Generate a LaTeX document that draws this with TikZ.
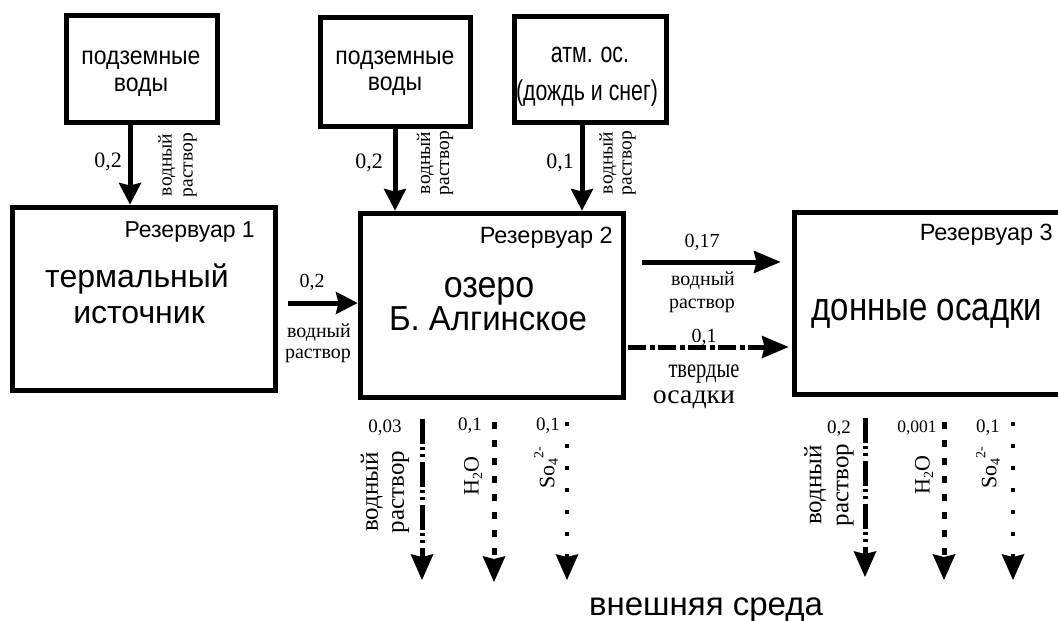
\documentclass[tikz,border=0pt]{standalone}
\usepackage{fontspec}
\setmainfont{Liberation Sans}
\newfontfamily\serf{Liberation Serif}
\usetikzlibrary{arrows.meta}
\newcommand\fsz[1]{\fontsize{#1}{#1}\selectfont}
\begin{document}
\begin{tikzpicture}[x=1pt,y=-1pt,
  box/.style={draw, line width=5pt, inner sep=0pt},
  flow/.style={line width=5pt, -{Stealth[length=22pt,width=23pt,inset=3pt,line width=0pt]}},
  flowlong/.style={line width=5pt, -{Stealth[length=27pt,width=23pt,inset=3pt,line width=0pt]}},
  downtip/.style={-{Stealth[length=26pt,width=23pt,inset=3pt,line width=0pt]}},
  solut/.style={downtip, line width=5pt, dash pattern=on 25pt off 3pt on 3pt off 4pt on 3pt off 5pt},
  water/.style={downtip, line width=5pt, dash pattern=on 7pt off 11pt},
  sulf/.style={downtip, line width=4pt, dash pattern=on 3.5pt off 18.5pt},
  solid/.style={line width=5pt, dash pattern=on 18pt off 3.5pt on 5pt off 3.5pt,
     -{Stealth[length=27pt,width=23pt,inset=3pt,line width=0pt]}},
  txt/.style={inner sep=0pt, anchor=base},
  num/.style={inner sep=0pt, anchor=base, font=\serf\fsz{19}},
  rot/.style={inner sep=0pt, rotate=90, align=center}
]
\useasboundingbox (0,0) rectangle (1058,621);
\clip (0,0) rectangle (1058,621);

% boxes
\node[box, minimum width=151pt, minimum height=107pt] (g1) at (141.5,68.5) {};
\node[box, minimum width=150pt, minimum height=109pt] (g2) at (395,71.5) {};
\node[box, minimum width=152pt, minimum height=106pt] (atm) at (590,69) {};
\node[box, minimum width=263pt, minimum height=183pt] (R1) at (143.5,298.5) {};
\node[box, minimum width=263pt, minimum height=184pt] (R2) at (491.5,305) {};
\node[box, minimum width=276pt, minimum height=182pt] (R3) at (932,303) {};

% box texts
\node[txt, font=\fsz{23}] (g1a) at (141,64) {\scalebox{1}[1.1]{подземные}};
\node[txt, font=\fsz{23}] (g1b) at (141,91) {\scalebox{1}[1.1]{воды}};
\node[txt, font=\fsz{23}] (g2a) at (395,64) {\scalebox{1}[1.1]{подземные}};
\node[txt, font=\fsz{23}] (g2b) at (395,90) {\scalebox{1}[1.1]{воды}};
\node[txt, font=\fsz{26}] (ata) at (590,62) {\scalebox{0.82}[1.1]{атм. ос.}};
\node[txt, font=\fsz{26}] (atb) at (587,100) {\scalebox{0.82}[1.1]{(дождь и снег)}};

\node[txt, anchor=base east, font=\fsz{23}] (r1t) at (255,237) {Резервуар 1};
\node[txt, font=\fsz{32}] (r1a) at (137,287) {термальный};
\node[txt, font=\fsz{32}] (r1b) at (139,323) {источник};

\node[txt, anchor=base east, font=\fsz{23.5}] (r2t) at (613,243) {Резервуар 2};
\node[txt, font=\fsz{34}] (r2a) at (489,297) {\scalebox{1}[1.1]{озеро}};
\node[txt, font=\fsz{33}] (r2b) at (488,330) {\scalebox{1}[1.05]{Б. Алгинское}};

\node[txt, anchor=base east, font=\fsz{23.5}] (r3t) at (1053,240) {Резервуар 3};
\node[txt, font=\fsz{33}] (r3a) at (927,320) {\scalebox{1}[1.2]{донные осадки}};

\node[txt, font=\fsz{33}] (env) at (706,615) {внешняя среда};

% top inflows
\coordinate (t1) at ([xshift=-11.5pt]g1.south);
\draw[flow] (t1) -- (t1 |- R1.north);
\draw[flow] (g2.south) -- (g2.south |- R2.north);
\coordinate (t3) at ([xshift=-8pt]atm.south);
\draw[flow] (t3) -- (t3 |- R2.north);

\node[num, font=\serf\fsz{22}] (n1) at (108,167) {0,2};
\node[rot, font=\serf\fontsize{19.5}{21}\selectfont] (w1) at (177.5,165) {водный\\раствор};
\node[num, font=\serf\fsz{22}] (n2) at (369,168) {0,2};
\node[rot, font=\serf\fontsize{19.5}{19}\selectfont] (w2) at (435,163) {водный\\раствор};
\node[num, font=\serf\fsz{22}] (n3) at (560,168) {0,1};
\node[rot, font=\serf\fontsize{19.5}{19}\selectfont] (w3) at (617.5,163) {водный\\раствор};

% horizontal flows
\coordinate (h1) at (288,303);
\draw[flow] (h1) -- (h1 -| R2.west);
\node[num, font=\serf\fsz{20}] (n4) at (312,287) {0,2};
\node[num, font=\serf\fsz{20}] (w4a) at (319,337) {водный};
\node[num, font=\serf\fsz{20}] (w4b) at (318,358) {раствор};

\coordinate (h2) at (642,262);
\draw[flowlong, shorten >=11pt] (h2) -- (h2 -| R3.west);
\node[num, font=\serf\fsz{20}] (n5) at (702,247) {0,17};
\node[num, font=\serf\fsz{20}] (w5a) at (703,285) {водный};
\node[num, font=\serf\fsz{20}] (w5b) at (702,308) {раствор};

\coordinate (h3) at (628,347);
\draw[solid, shorten >=3pt] (h3) -- (h3 -| R3.west);
\node[num, font=\serf\fsz{20}] (n6) at (704,342) {0,1};
\node[num, font=\serf\fsz{27}] (s6a) at (704,377) {\scalebox{0.76}[1]{твердые}};
\node[num, font=\serf\fsz{27}] (s6b) at (694,403) {\scalebox{1.03}[1]{осадки}};

% outflows from reservoir 2
\coordinate (a1s) at (422,419); \coordinate (a1e) at (422,580);
\coordinate (a2s) at (494,422); \coordinate (a2e) at (494,582);
\coordinate (a3s) at (567,422); \coordinate (a3e) at (567,580);
\draw[solut] (a1s) -- (a1e);
\draw[water] (a2s) -- (a2e);
\draw[sulf] (a3s) -- (a3e);
\node[num] (n7) at (385,432) {0,03};
\node[num] (n8) at (470,430) {0,1};
\node[num] (n9) at (548,430) {0,1};
\node[rot, font=\serf\fontsize{25}{26}\selectfont] (w7) at (385,492) {водный\\раствор};
\node[rot, font=\serf\fsz{22}] (h8) at (473,476) {H\raisebox{-0.35ex}{\fsz{14}2}O};
\node[rot, font=\serf\fsz{22}] (s9) at (546,468) {So\raisebox{-0.35ex}{\fsz{14}4}\raisebox{1.1ex}{\fsz{14}2-}};

% outflows from reservoir 3
\coordinate (b1s) at (865,418); \coordinate (b1e) at (865,577);
\coordinate (b2s) at (944,422); \coordinate (b2e) at (944,580);
\coordinate (b3s) at (1013,422); \coordinate (b3e) at (1013,580);
\draw[solut] (b1s) -- (b1e);
\draw[water] (b2s) -- (b2e);
\draw[sulf] (b3s) -- (b3e);
\node[num] (n10) at (839,433) {0,2};
\node[num, font=\serf\fsz{17.5}] (n11) at (917,432) {0,001};
\node[num] (n12) at (988,432) {0,1};
\node[rot, font=\serf\fontsize{25}{27}\selectfont] (w10) at (829,485) {водный\\раствор};
\node[rot, font=\serf\fsz{22}] (h11) at (924,475) {H\raisebox{-0.35ex}{\fsz{14}2}O};
\node[rot, font=\serf\fsz{22}] (s12) at (988,468) {So\raisebox{-0.35ex}{\fsz{14}4}\raisebox{1.1ex}{\fsz{14}2-}};
\end{tikzpicture}
\end{document}
